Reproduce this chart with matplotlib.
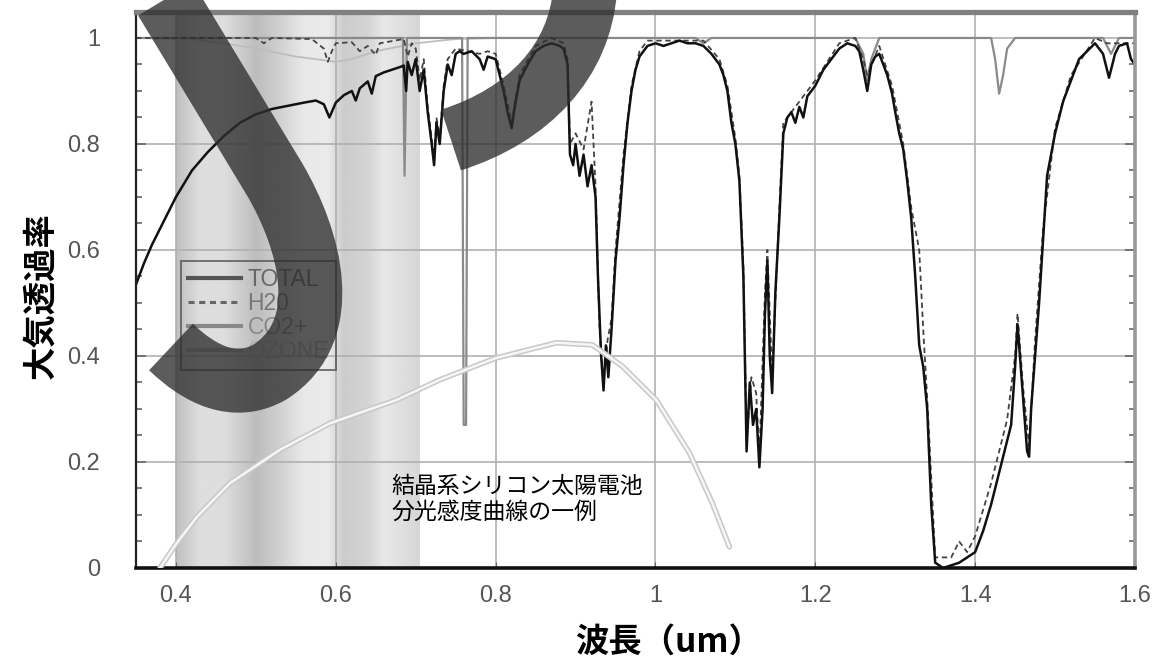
import numpy as np
import matplotlib
matplotlib.use("Agg")
import matplotlib.pyplot as plt
from matplotlib.path import Path
from matplotlib.patches import PathPatch
from matplotlib.lines import Line2D
from matplotlib.ticker import MultipleLocator, FuncFormatter
import matplotlib.transforms as mtrans

plt.rcParams['font.family'] = ['Liberation Sans', 'DejaVu Sans']
JP = ['Noto Sans CJK JP', 'DejaVu Sans']

# --- data (wavelength in um, transmittance) ---
total_wl = [0.35, 0.36, 0.37, 0.38, 0.39, 0.40, 0.42, 0.44, 0.46, 0.48, 0.50, 0.52, 0.54, 0.56,
            0.575, 0.585, 0.592, 0.60, 0.61, 0.62, 0.625, 0.63, 0.64, 0.645, 0.65, 0.66, 0.67,
            0.68, 0.685, 0.688, 0.69, 0.695, 0.70, 0.705, 0.71, 0.715, 0.72, 0.723, 0.726, 0.73,
            0.735, 0.74, 0.745, 0.75, 0.755, 0.76, 0.77, 0.78, 0.785, 0.79, 0.80, 0.805, 0.81,
            0.815, 0.82, 0.825, 0.83, 0.84, 0.85, 0.86, 0.87, 0.88, 0.885, 0.89, 0.893, 0.897,
            0.90, 0.905, 0.91, 0.915, 0.92, 0.925, 0.928, 0.932, 0.935, 0.938, 0.941, 0.945,
            0.95, 0.955, 0.96, 0.965, 0.97, 0.975, 0.98, 0.99, 1.00, 1.01, 1.02, 1.03, 1.04,
            1.05, 1.06, 1.07, 1.08, 1.085, 1.09, 1.095, 1.10, 1.105, 1.11, 1.114, 1.118, 1.122,
            1.126, 1.13, 1.134, 1.137, 1.14, 1.143, 1.146, 1.15, 1.155, 1.16, 1.165, 1.17,
            1.175, 1.18, 1.185, 1.19, 1.20, 1.21, 1.22, 1.23, 1.24, 1.25, 1.255, 1.26, 1.265,
            1.27, 1.275, 1.28, 1.29, 1.296, 1.30, 1.305, 1.31, 1.315, 1.32, 1.325, 1.33, 1.335,
            1.34, 1.345, 1.35, 1.36, 1.37, 1.38, 1.39, 1.40, 1.41, 1.42, 1.43, 1.44, 1.445,
            1.45, 1.453, 1.457, 1.46, 1.465, 1.4675, 1.47, 1.475, 1.48, 1.485, 1.49, 1.50,
            1.51, 1.52, 1.53, 1.54, 1.55, 1.56, 1.5675, 1.575, 1.58, 1.59, 1.595, 1.60]
total_t = [0.535, 0.575, 0.61, 0.64, 0.67, 0.70, 0.75, 0.785, 0.815, 0.84, 0.856, 0.866, 0.872, 0.878,
           0.882, 0.875, 0.850, 0.878, 0.892, 0.90, 0.882, 0.905, 0.918, 0.895, 0.928, 0.935, 0.94,
           0.945, 0.948, 0.90, 0.955, 0.93, 0.96, 0.90, 0.94, 0.86, 0.80, 0.76, 0.84, 0.80,
           0.90, 0.95, 0.93, 0.97, 0.975, 0.97, 0.975, 0.96, 0.94, 0.965, 0.96, 0.93, 0.90,
           0.86, 0.83, 0.88, 0.92, 0.95, 0.975, 0.985, 0.99, 0.985, 0.98, 0.95, 0.78, 0.76,
           0.80, 0.74, 0.78, 0.72, 0.76, 0.70, 0.55, 0.40, 0.335, 0.42, 0.36, 0.45,
           0.58, 0.66, 0.76, 0.84, 0.90, 0.94, 0.965, 0.985, 0.99, 0.985, 0.99, 0.995, 0.99,
           0.99, 0.985, 0.97, 0.95, 0.93, 0.90, 0.84, 0.80, 0.73, 0.55, 0.22, 0.35, 0.27,
           0.30, 0.19, 0.30, 0.48, 0.58, 0.40, 0.33, 0.52, 0.66, 0.82, 0.85, 0.86,
           0.84, 0.87, 0.85, 0.89, 0.91, 0.94, 0.96, 0.98, 0.99, 0.985, 0.975, 0.94, 0.90,
           0.95, 0.965, 0.97, 0.93, 0.895, 0.86, 0.82, 0.79, 0.73, 0.66, 0.55, 0.42, 0.38,
           0.30, 0.12, 0.01, 0.0, 0.005, 0.01, 0.02, 0.03, 0.07, 0.12, 0.18, 0.24, 0.27,
           0.38, 0.46, 0.38, 0.32, 0.22, 0.21, 0.30, 0.40, 0.50, 0.62, 0.74, 0.82,
           0.88, 0.92, 0.96, 0.975, 0.99, 0.97, 0.925, 0.97, 0.985, 0.99, 0.96, 0.95]

h2o_wl = [0.35, 0.50, 0.51, 0.52, 0.57, 0.585, 0.59, 0.595, 0.60, 0.62, 0.63, 0.64, 0.65, 0.655,
          0.685, 0.69, 0.695, 0.70, 0.705, 0.71, 0.715, 0.72, 0.723, 0.726, 0.73, 0.735, 0.74,
          0.75, 0.78, 0.79, 0.80, 0.81, 0.82, 0.83, 0.85, 0.87, 0.885, 0.89, 0.893, 0.90, 0.91,
          0.92, 0.925, 0.93, 0.935, 0.94, 0.945, 0.95, 0.96, 0.97, 0.98, 0.99, 1.06, 1.08,
          1.09, 1.10, 1.105, 1.11, 1.114, 1.12, 1.126, 1.13, 1.137, 1.14, 1.146, 1.155, 1.16,
          1.18, 1.20, 1.23, 1.25, 1.26, 1.265, 1.28, 1.296, 1.31, 1.32, 1.33, 1.335, 1.34,
          1.35, 1.37, 1.38, 1.39, 1.40, 1.41, 1.42, 1.43, 1.44, 1.45, 1.453, 1.46, 1.4675,
          1.475, 1.485, 1.50, 1.52, 1.55, 1.565, 1.58, 1.60]
h2o_t = [1.0, 1.0, 0.99, 1.0, 0.998, 0.98, 0.955, 0.975, 0.99, 0.992, 0.975, 0.985, 0.968, 0.99,
         0.998, 0.965, 0.99, 0.98, 0.92, 0.96, 0.87, 0.81, 0.77, 0.85, 0.81, 0.91, 0.96,
         0.98, 0.97, 0.975, 0.97, 0.91, 0.84, 0.93, 0.985, 1.0, 0.99, 0.96, 0.80, 0.82, 0.79,
         0.88, 0.72, 0.45, 0.35, 0.43, 0.47, 0.60, 0.78, 0.91, 0.975, 0.995, 0.995, 0.96,
         0.91, 0.81, 0.74, 0.57, 0.24, 0.36, 0.33, 0.21, 0.52, 0.60, 0.36, 0.68, 0.84,
         0.88, 0.92, 0.99, 1.0, 0.96, 0.93, 0.985, 0.91, 0.80, 0.68, 0.60, 0.45, 0.32,
         0.02, 0.02, 0.05, 0.03, 0.06, 0.11, 0.16, 0.22, 0.28, 0.40, 0.48, 0.34, 0.23,
         0.43, 0.64, 0.83, 0.93, 1.0, 0.99, 0.99, 0.99]

co2_wl = [0.35, 0.684, 0.686, 0.689, 0.758, 0.760, 0.763, 0.765, 1.05, 1.06, 1.07, 1.25, 1.26,
          1.265, 1.27, 1.28, 1.42, 1.425, 1.43, 1.435, 1.44, 1.45, 1.56, 1.57, 1.58, 1.60]
co2_t = [1.0, 1.0, 0.74, 1.0, 1.0, 0.27, 0.27, 1.0, 1.0, 0.99, 1.0, 1.0, 0.97,
         0.92, 0.96, 1.0, 1.0, 0.96, 0.895, 0.93, 0.98, 1.0, 1.0, 0.97, 1.0, 1.0]

ozone_wl = [0.35, 0.42, 0.46, 0.50, 0.55, 0.60, 0.62, 0.65, 0.70, 0.75, 0.80, 1.60]
ozone_t = [1.0, 0.998, 0.99, 0.98, 0.965, 0.955, 0.96, 0.975, 0.99, 0.998, 1.0, 1.0]

# crystalline silicon cell spectral response (relative)
si_wl = [0.38, 0.40, 0.426, 0.4675, 0.53, 0.5925, 0.676, 0.73, 0.80, 0.876, 0.921, 0.959,
         1.001, 1.0425, 1.071, 1.0925]
si_r = [0.0, 0.045, 0.096, 0.16, 0.223, 0.273, 0.317, 0.355, 0.396, 0.425, 0.421, 0.38,
        0.317, 0.217, 0.123, 0.04]

# visible band shading (gray level across wavelength)
shade_x = [0.40, 0.43, 0.46, 0.50, 0.52, 0.56, 0.59, 0.61, 0.64, 0.66, 0.705]
shade_v = [0.75, 0.87, 0.87, 0.74, 0.79, 0.91, 0.92, 0.80, 0.83, 0.91, 0.84]

W, H = 1161, 664
fig = plt.figure(figsize=(W / 100, H / 100), dpi=100)
ax = fig.add_axes([136 / W, 1 - 568 / H, 999 / W, 556 / H])
ax.set_xlim(0.35, 1.6)
ax.set_ylim(0, 1.049)

xs = np.linspace(shade_x[0], shade_x[-1], 300)
grad = np.interp(xs, shade_x, shade_v)[None, :]
ax.imshow(grad, cmap='gray', vmin=0, vmax=1, aspect='auto',
          extent=[shade_x[0], shade_x[-1], 0, 1.049], zorder=0, interpolation='bilinear')

ax.grid(True, which='major', color='#b0b0b0', lw=1.2)

ax.plot(ozone_wl, ozone_t, color='#bdbdbd', lw=1.3, zorder=2.1)
ax.plot(co2_wl, co2_t, color='#8a8a8a', lw=1.6, zorder=2.2)
ax.plot(h2o_wl, h2o_t, color='#444444', lw=1.3, ls=(0, (3, 2)), zorder=2.4)
ax.plot(total_wl, total_t, color='#111111', lw=1.8, zorder=2.5)

ax.plot(si_wl, si_r, color='#c8c8c8', lw=4.0, zorder=2.6, solid_capstyle='round')
ax.plot(si_wl, si_r, color='#f6f6f6', lw=1.8, zorder=2.7, solid_capstyle='round')

ax.text(0.67, 0.13, "結晶系シリコン太陽電池\n分光感度曲線の一例", family=JP, fontsize=16.5,
        va='center', ha='left', linespacing=1.15, color='black', zorder=4)

# legend
handles = [Line2D([], [], color='#555555', lw=3),
           Line2D([], [], color='#666666', lw=2.2, ls=(0, (2, 1.5))),
           Line2D([], [], color='#888888', lw=3),
           Line2D([], [], color='#aaaaaa', lw=3)]
labels = ["TOTAL", "H20", "CO2+", "OZONE"]
leg = ax.legend(handles, labels, loc='lower left', bbox_to_anchor=(0.045, 0.356),
                borderaxespad=0, fontsize=16.5, handlelength=2.3, handletextpad=0.3,
                labelspacing=0.05, borderpad=0.3, fancybox=False, frameon=True)
leg.get_frame().set_facecolor('none')
leg.get_frame().set_edgecolor('#555555')
leg.get_frame().set_linewidth(1.4)
for txt, c in zip(leg.get_texts(), ['#666666', '#777777', '#888888', '#b0b0b0']):
    txt.set_color(c)

# axes styling
ax.yaxis.set_major_locator(MultipleLocator(0.2))
ax.yaxis.set_minor_locator(MultipleLocator(0.05))
ax.xaxis.set_major_locator(MultipleLocator(0.2))
fmt = FuncFormatter(lambda v, p: f"{v:g}")
ax.xaxis.set_major_formatter(fmt)
ax.yaxis.set_major_formatter(fmt)
ax.tick_params(axis='y', which='both', direction='in', left=True, right=True,
               color='#666666', width=1.2, labelcolor='#555555', labelsize=17, pad=26)
ax.tick_params(axis='y', which='major', length=7)
ax.tick_params(axis='y', which='minor', length=4)
ax.tick_params(axis='x', which='major', direction='in', length=4, color='#666666',
               labelcolor='#555555', labelsize=17, pad=12)
ax.spines['left'].set_color('#222222')
ax.spines['left'].set_linewidth(1.6)
ax.spines['bottom'].set_color('#111111')
ax.spines['bottom'].set_linewidth(2.6)
ax.spines['top'].set_color('#808080')
ax.spines['top'].set_linewidth(3.8)
ax.spines['right'].set_color('#999999')
ax.spines['right'].set_linewidth(2.6)

fig.text(41 / W, 1 - 296 / H, "大気透過率", family=JP, fontsize=24, fontweight='bold',
         rotation=90, ha='center', va='center')
fig.text(669 / W, 1 - 642 / H, "波長（um）", family=JP, fontsize=24, fontweight='bold',
         ha='center', va='center')

# overlaid brush strokes (decoration in pixel coordinates)
pix = mtrans.Affine2D().scale(1 / W, -1 / H).translate(0, 1) + fig.transFigure
s1 = Path([(160, -10), (275, 180), (310, 240), (335, 330), (270, 372),
           (235, 392), (200, 375), (171, 347)],
          [Path.MOVETO, Path.LINETO, Path.CURVE4, Path.CURVE4, Path.CURVE4,
           Path.CURVE4, Path.CURVE4, Path.CURVE4])
s2 = Path([(585, -10), (580, 60), (530, 115), (451, 140)],
          [Path.MOVETO, Path.CURVE4, Path.CURVE4, Path.CURVE4])
for p in (s1, s2):
    fig.add_artist(PathPatch(p, facecolor='none', edgecolor='#2e2e2e', alpha=0.78,
                             lw=46, capstyle='butt', joinstyle='round',
                             transform=pix, zorder=5))

fig.savefig("out.png", dpi=100)
